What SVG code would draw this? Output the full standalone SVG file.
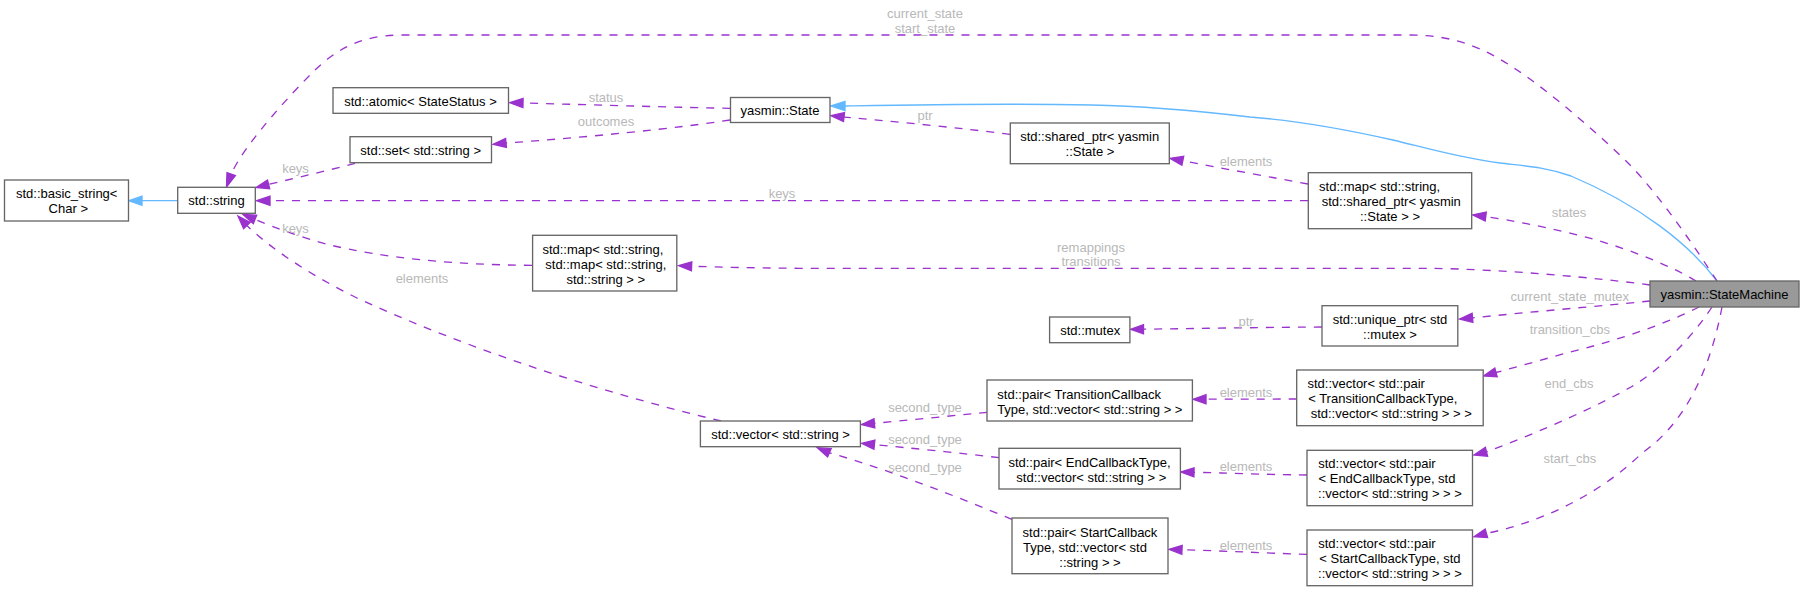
<svg xmlns="http://www.w3.org/2000/svg" width="1804" height="591" viewBox="0 0 1804 591">
<style>
.box{fill:#ffffff;stroke:#666666;stroke-width:1.33}
.sel{fill:#999999;stroke:#666666;stroke-width:1.33}
.t{font-family:"Liberation Sans",Arial,Helvetica,sans-serif;font-size:13px;fill:#000000;text-anchor:middle}
.lbl{font-family:"Liberation Sans",Arial,Helvetica,sans-serif;font-size:13px;fill:#b8b8b8;text-anchor:middle}
.e{fill:none;stroke:#9a32cd;stroke-width:1.33;stroke-dasharray:8,8}
.eh{fill:#9a32cd;stroke:#9a32cd;stroke-width:1.33}
.i{fill:none;stroke:#63b8ff;stroke-width:1.33}
.ih{fill:#63b8ff;stroke:#63b8ff;stroke-width:1.33}
</style>
<rect x="0" y="0" width="1804" height="591" fill="#ffffff"/>
<g id="connectors">
  <!-- inheritance: StateMachine -> State -->
  <path class="i" d="M1717,281 C1690,245 1640,205 1571,176 C1545,167 1525,166 1500,163 C1460,158 1430,149 1393,140 C1340,128 1290,120 1250,117 C1190,110 1140,106 1091,105 C1000,103 900,105 845,106"/>
  <polygon class="ih" points="831,106 845,101.5 845,110.5"/>
  <!-- inheritance: std::string -> basic_string -->
  <path class="i" d="M177.7,200.7 L142,200.7"/>
  <polygon class="ih" points="129,200.7 142,196.2 142,205.2"/>
  <!-- current_state / start_state -->
  <path class="e" d="M1717,281 C1700,255 1660,195 1628,163 C1600,135 1550,92 1517,70 C1490,52 1460,35 1410,35 L402,35 C360,35 335,50 312,73 C290,95 244,145 231.2,174.1"/>
  <polygon class="eh" points="226.5,187 227,172.6 235.4,175.6"/>
  <text class="lbl" x="925" y="18.3">current_state</text>
  <text class="lbl" x="925" y="32.7">start_state</text>
  <!-- status -->
  <path class="e" d="M730,108.3 C680,107.5 600,105 523,103"/>
  <polygon class="eh" points="509.8,102.7 523.1,98.5 522.9,107.5"/>
  <text class="lbl" x="606" y="101.5">status</text>
  <!-- outcomes -->
  <path class="e" d="M730,120 C680,128 580,138 506,143"/>
  <polygon class="eh" points="493,144.3 505.6,138.5 506.4,147.5"/>
  <text class="lbl" x="606" y="125.5">outcomes</text>
  <!-- keys set -> string -->
  <path class="e" d="M355,163.3 C330,170 300,177 268.6,184.4"/>
  <polygon class="eh" points="256,187.5 267.5,180 269.7,188.8"/>
  <text class="lbl" x="295.5" y="173">keys</text>
  <!-- keys map(states) -> string -->
  <path class="e" d="M1308,200.7 L270,200.7"/>
  <polygon class="eh" points="256.7,200.7 270,196.2 270,205.2"/>
  <text class="lbl" x="782" y="197.5">keys</text>
  <!-- keys map(remappings) -> string -->
  <path class="e" d="M532,265.3 C450,265 380,257 330,245 C300,237 275,228 255,219.4"/>
  <polygon class="eh" points="243,214.5 256.7,215.2 253.3,223.6"/>
  <text class="lbl" x="295.5" y="232.5">keys</text>
  <!-- elements vector<string> -> string -->
  <path class="e" d="M721,421 C600,392 470,350 357,298 C310,275 270,248 246.9,225.5"/>
  <polygon class="eh" points="238,216 250.2,222.4 243.6,228.6"/>
  <text class="lbl" x="422" y="283.2">elements</text>
  <!-- ptr shared_ptr -> State -->
  <path class="e" d="M1010,134.3 C960,128 900,122 844,117.1"/>
  <polygon class="eh" points="831,115.7 844.5,112.6 843.5,121.6"/>
  <text class="lbl" x="925" y="120.2">ptr</text>
  <!-- elements map(states) -> shared_ptr -->
  <path class="e" d="M1308,184 C1270,177 1220,168 1182.8,160.8"/>
  <polygon class="eh" points="1170,158.3 1183.7,156.4 1181.9,165.2"/>
  <text class="lbl" x="1246" y="165.7">elements</text>
  <!-- states -->
  <path class="e" d="M1696,281 C1670,265 1620,245 1571,233.3 C1540,226 1510,220 1485.7,216.6"/>
  <polygon class="eh" points="1472.8,215 1486.3,212.1 1485.2,221.1"/>
  <text class="lbl" x="1569" y="217.2">states</text>
  <!-- remappings / transitions -->
  <path class="e" d="M1650,285 C1600,278 1500,269 1428,268.3 L800,268.3 C750,268 720,267 691.6,266.3"/>
  <polygon class="eh" points="678.6,265.7 691.8,261.8 691.4,270.8"/>
  <text class="lbl" x="1091" y="251.8">remappings</text>
  <text class="lbl" x="1091" y="266">transitions</text>
  <!-- current_state_mutex -->
  <path class="e" d="M1650,301 C1600,306 1530,312 1472.5,317.8"/>
  <polygon class="eh" points="1459.6,319 1472.1,313.3 1472.9,322.3"/>
  <text class="lbl" x="1569.8" y="301.2">current_state_mutex</text>
  <!-- transition_cbs -->
  <path class="e" d="M1699,307 C1670,322 1620,340 1570,352 C1545,359 1520,366 1496,372.5"/>
  <polygon class="eh" points="1483.5,376 1494.8,368.2 1497.2,376.8"/>
  <text class="lbl" x="1569.8" y="333.5">transition_cbs</text>
  <!-- end_cbs -->
  <path class="e" d="M1712,307 C1690,340 1660,370 1631.5,386.7 C1600,405 1540,432 1486.5,451.8"/>
  <polygon class="eh" points="1473.9,455 1485.4,447.4 1487.6,456.2"/>
  <text class="lbl" x="1569" y="388.2">end_cbs</text>
  <!-- start_cbs -->
  <path class="e" d="M1722,307 C1712,360 1690,420 1642,453 C1605,490 1545,522 1486.4,533.3"/>
  <polygon class="eh" points="1473.9,536.7 1485.2,529 1487.6,537.6"/>
  <text class="lbl" x="1569.8" y="463.2">start_cbs</text>
  <!-- ptr unique_ptr -> mutex -->
  <path class="e" d="M1322,327 C1250,327.5 1200,328.5 1143.5,329.2"/>
  <polygon class="eh" points="1130.5,329.3 1143.5,324.7 1143.5,333.7"/>
  <text class="lbl" x="1246" y="325.8">ptr</text>
  <!-- elements trans vector -> pair -->
  <path class="e" d="M1296.7,399 L1206,399.2"/>
  <polygon class="eh" points="1193,399.3 1206,394.7 1206,403.7"/>
  <text class="lbl" x="1246" y="397.2">elements</text>
  <!-- elements end vector -> pair -->
  <path class="e" d="M1307,475 C1260,474.5 1230,473 1194,472.3"/>
  <polygon class="eh" points="1181,472 1194.1,467.8 1193.9,476.8"/>
  <text class="lbl" x="1246" y="470.8">elements</text>
  <!-- elements start vector -> pair -->
  <path class="e" d="M1307,554.3 C1260,553 1230,551 1182,549.8"/>
  <polygon class="eh" points="1169,549.3 1182.2,545.3 1181.8,554.3"/>
  <text class="lbl" x="1246" y="549.5">elements</text>
  <!-- second_type trans -->
  <path class="e" d="M987,412.3 C950,416 910,420 874.4,423.3"/>
  <polygon class="eh" points="861.5,424.5 874,418.8 874.8,427.8"/>
  <text class="lbl" x="925" y="412.2">second_type</text>
  <!-- second_type end -->
  <path class="e" d="M999,457.7 C960,453 910,448 874.4,444.7"/>
  <polygon class="eh" points="861.5,443.3 874.9,440.2 873.9,449.2"/>
  <text class="lbl" x="925" y="444.2">second_type</text>
  <!-- second_type start -->
  <path class="e" d="M1012,519.3 C960,498 890,470 829.4,452.8"/>
  <polygon class="eh" points="817.4,447.7 831.2,448.7 827.6,456.9"/>
  <text class="lbl" x="925" y="472.2">second_type</text>
</g>
<g id="node-StateMachine">
  <rect class="sel" x="1650" y="281" width="149" height="26"/>
  <text class="t" x="1724.5" y="298.7">yasmin::StateMachine</text>
</g>
<g id="node-State">
  <rect class="box" x="730.5" y="97.5" width="99.5" height="25"/>
  <text class="t" x="780" y="115">yasmin::State</text>
</g>
<g id="node-atomic">
  <rect class="box" x="333" y="87.7" width="175.5" height="25.6"/>
  <text class="t" x="420.5" y="105.5">std::atomic&lt; StateStatus &gt;</text>
</g>
<g id="node-set">
  <rect class="box" x="350" y="136.7" width="141.5" height="26"/>
  <text class="t" x="420.7" y="155">std::set&lt; std::string &gt;</text>
</g>
<g id="node-string">
  <rect class="box" x="177.7" y="187.3" width="77.6" height="26"/>
  <text class="t" x="216.5" y="205">std::string</text>
</g>
<g id="node-basic_string">
  <rect class="box" x="4.5" y="180" width="124" height="41"/>
  <text class="t" x="66.7" y="198">std::basic_string&lt;</text>
  <text class="t" x="68.3" y="213">Char &gt;</text>
</g>
<g id="node-map-remappings">
  <rect class="box" x="532.6" y="235.3" width="144.2" height="55.7"/>
  <text class="t" x="602.9" y="253.8">std::map&lt; std::string,</text>
  <text class="t" x="605.8" y="268.8">std::map&lt; std::string,</text>
  <text class="t" x="605.8" y="283.8">std::string &gt; &gt;</text>
</g>
<g id="node-shared_ptr">
  <rect class="box" x="1010.3" y="123" width="159" height="40.7"/>
  <text class="t" x="1089.7" y="141">std::shared_ptr&lt; yasmin</text>
  <text class="t" x="1090" y="156">::State &gt;</text>
</g>
<g id="node-map-states">
  <rect class="box" x="1308.3" y="172.7" width="163.4" height="56"/>
  <text class="t" x="1379.6" y="191">std::map&lt; std::string,</text>
  <text class="t" x="1391.3" y="206">std::shared_ptr&lt; yasmin</text>
  <text class="t" x="1390" y="221">::State &gt; &gt;</text>
</g>
<g id="node-vector-string">
  <rect class="box" x="700.4" y="421" width="160" height="25.7"/>
  <text class="t" x="780.6" y="439">std::vector&lt; std::string &gt;</text>
</g>
<g id="node-mutex">
  <rect class="box" x="1049.6" y="317" width="80.3" height="25.7"/>
  <text class="t" x="1090.2" y="335">std::mutex</text>
</g>
<g id="node-unique_ptr">
  <rect class="box" x="1322" y="305.7" width="135.8" height="40.3"/>
  <text class="t" x="1390" y="323.8">std::unique_ptr&lt; std</text>
  <text class="t" x="1390" y="338.8">::mutex &gt;</text>
</g>
<g id="node-pair-transition">
  <rect class="box" x="987" y="380" width="205.4" height="41"/>
  <text class="t" x="1079.2" y="398.5">std::pair&lt; TransitionCallback</text>
  <text class="t" x="1089.8" y="413.5">Type, std::vector&lt; std::string &gt; &gt;</text>
</g>
<g id="node-pair-end">
  <rect class="box" x="999" y="448.3" width="181.4" height="40.7"/>
  <text class="t" x="1089.5" y="466.5">std::pair&lt; EndCallbackType,</text>
  <text class="t" x="1091.3" y="481.5">std::vector&lt; std::string &gt; &gt;</text>
</g>
<g id="node-pair-start">
  <rect class="box" x="1012" y="518" width="156" height="55.7"/>
  <text class="t" x="1090" y="536.5">std::pair&lt; StartCallback</text>
  <text class="t" x="1085" y="551.5">Type, std::vector&lt; std</text>
  <text class="t" x="1090" y="566.5">::string &gt; &gt;</text>
</g>
<g id="node-vector-transition">
  <rect class="box" x="1296.7" y="370" width="186.5" height="55.7"/>
  <text class="t" x="1366.2" y="388.2">std::vector&lt; std::pair</text>
  <text class="t" x="1382.8" y="403.2">&lt; TransitionCallbackType,</text>
  <text class="t" x="1391.2" y="418.2">std::vector&lt; std::string &gt; &gt; &gt;</text>
</g>
<g id="node-vector-end">
  <rect class="box" x="1307" y="450.3" width="165.5" height="55.4"/>
  <text class="t" x="1376.9" y="468.2">std::vector&lt; std::pair</text>
  <text class="t" x="1387" y="483.2">&lt; EndCallbackType, std</text>
  <text class="t" x="1390" y="498.2">::vector&lt; std::string &gt; &gt; &gt;</text>
</g>
<g id="node-vector-start">
  <rect class="box" x="1307" y="530" width="165.5" height="55.7"/>
  <text class="t" x="1376.9" y="548.2">std::vector&lt; std::pair</text>
  <text class="t" x="1389.9" y="563.2">&lt; StartCallbackType, std</text>
  <text class="t" x="1390" y="578.2">::vector&lt; std::string &gt; &gt; &gt;</text>
</g>
</svg>
